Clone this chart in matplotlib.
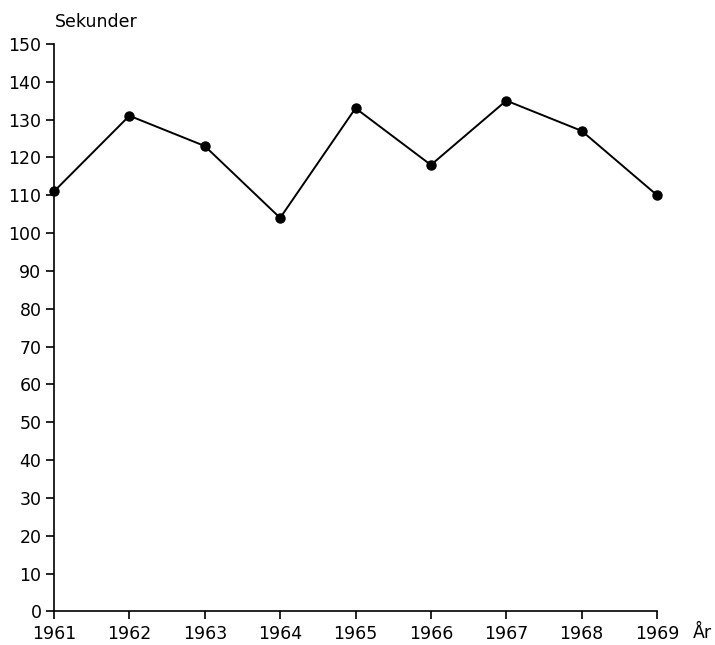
import matplotlib.pyplot as plt

years = [1961, 1962, 1963, 1964, 1965, 1966, 1967, 1968, 1969]
seconds = [111, 131, 123, 104, 133, 118, 135, 127, 110]
y_ticks = list(range(0, 151, 10))

plt.rcParams['font.family'] = ['DejaVu Sans']

fig = plt.figure(figsize=(7.15, 6.45), dpi=100)
ax = fig.add_axes([0.0755, 0.052, 0.8435, 0.880])

ax.plot(years, seconds, color='black', linewidth=1.4, marker='o', markersize=6.5, clip_on=False, zorder=3)

ax.set_xlim(1961, 1969)
ax.set_ylim(0, 150)
ax.set_xticks(years)
ax.set_yticks(y_ticks)
ax.tick_params(axis='both', direction='out', length=6, width=1.2, labelsize=12.5)
ax.tick_params(axis='x', pad=3.5)
ax.tick_params(axis='y', pad=3)

for s in ['top', 'right']:
    ax.spines[s].set_visible(False)
for s in ['left', 'bottom']:
    ax.spines[s].set_linewidth(1.2)

fig.text(0.077, 0.966, 'Sekunder', fontsize=12.5, ha='left', va='center')
fig.text(0.982, 0.018, 'År', fontsize=12.5, ha='center', va='center')

fig.savefig('out.png', dpi=100)
